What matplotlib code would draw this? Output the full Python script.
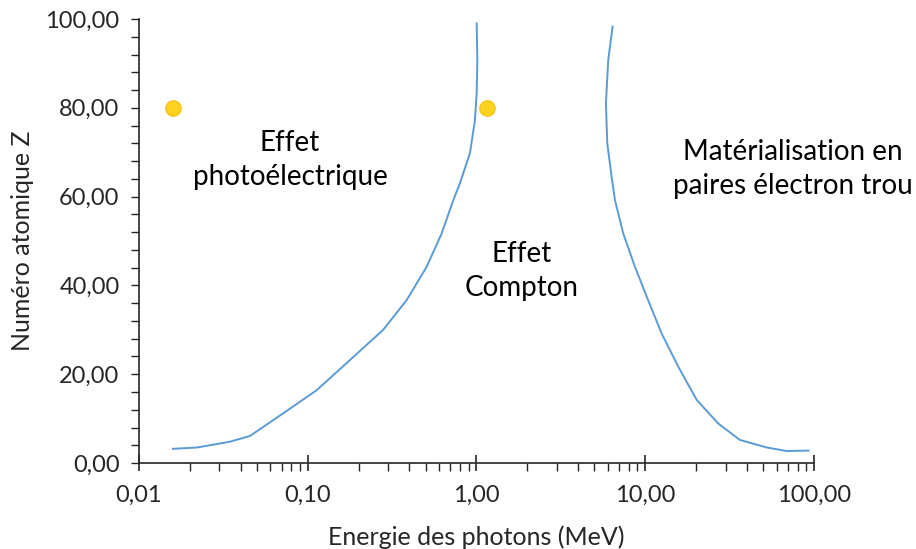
import matplotlib
matplotlib.use("Agg")
import matplotlib.pyplot as plt
from matplotlib.ticker import FixedLocator, MultipleLocator, FuncFormatter, LogLocator, NullFormatter

plt.rcParams['font.family'] = ['Lato', 'DejaVu Sans']

# limite photoelectrique / Compton
photo_E = [0.0159, 0.0221, 0.0346, 0.0455, 0.0716, 0.113, 0.178, 0.280, 0.386, 0.507,
           0.622, 0.729, 0.798, 0.915, 0.98, 1.003, 1.012, 1.003]
photo_Z = [3.2, 3.5, 4.8, 6.1, 11.2, 16.4, 23.2, 30.0, 36.7, 44.2,
           51.7, 59.2, 63.0, 69.8, 77.3, 83.3, 90.8, 99.0]

# limite Compton / materialisation
pair_E = [6.41, 6.04, 5.85, 5.96, 6.32, 6.62, 7.41, 8.69, 10.4, 12.5, 15.7, 20.2,
          27.1, 36.4, 52.5, 69.0, 93.0]
pair_Z = [98.3, 90.8, 81.0, 72.0, 64.5, 59.2, 51.7, 44.2, 36.7, 29.2, 21.7, 14.2,
          8.9, 5.2, 3.5, 2.7, 2.8]

# points
dots_E = [0.0159, 1.148]
dots_Z = [80, 80]

xticks = [0.01, 0.1, 1, 10, 100]
xtick_labels = ['0,01', '0,10', '1,00', '10,00', '100,00']

fig = plt.figure(figsize=(9.16, 5.49), dpi=100)
ax = fig.add_axes([0.1517, 0.1566, 0.7369, 0.8088])

blue = '#5B9BD5'
ax.plot(photo_E, photo_Z, color=blue, lw=1.4)
ax.plot(pair_E, pair_Z, color=blue, lw=1.4)
ax.plot(dots_E, dots_Z, 'o', ms=11, mfc='#FFD21F', mec='#F5C518', mew=1, clip_on=False)

ax.set_xscale('log')
ax.set_xlim(0.01, 100)
ax.set_ylim(0, 100)

ax.xaxis.set_major_locator(FixedLocator(xticks))
ax.xaxis.set_major_formatter(FuncFormatter(lambda v, p: xtick_labels[xticks.index(v)] if v in xticks else ''))
ax.xaxis.set_minor_locator(LogLocator(base=10, subs=range(2, 10)))
ax.xaxis.set_minor_formatter(NullFormatter())

ax.yaxis.set_major_locator(MultipleLocator(20))
ax.yaxis.set_minor_locator(MultipleLocator(4))
ax.yaxis.set_major_formatter(FuncFormatter(lambda v, p: f'{v:.2f}'.replace('.', ',')))

for s in ['top', 'right']:
    ax.spines[s].set_visible(False)
for s in ['left', 'bottom']:
    ax.spines[s].set_color('#262626')
    ax.spines[s].set_linewidth(1.2)

ax.tick_params(axis='x', which='major', direction='inout', length=12, width=1.2, color='#262626',
               labelsize=17, labelcolor='#262626', pad=10)
ax.tick_params(axis='x', which='minor', direction='out', length=6, width=1.0, color='#262626')
ax.tick_params(axis='y', which='both', direction='out', length=6, width=1.0, color='#262626',
               labelsize=17, labelcolor='#262626', pad=8)

ax.set_xlabel('Energie des photons (MeV)', fontsize=18, color='#262626', labelpad=14)
ax.set_ylabel('Numéro atomique Z', fontsize=18, color='#262626', labelpad=8)

tkw = dict(ha='center', va='center', fontsize=20, color='black', linespacing=1.4)
ax.text(0.0785, 68.3, 'Effet\nphotoélectrique', **tkw)
ax.text(1.84, 43.3, 'Effet\nCompton', **tkw)
ax.text(75, 66.2, 'Matérialisation en\npaires électron trou', clip_on=False, **tkw)

fig.savefig('out.png', dpi=100)
